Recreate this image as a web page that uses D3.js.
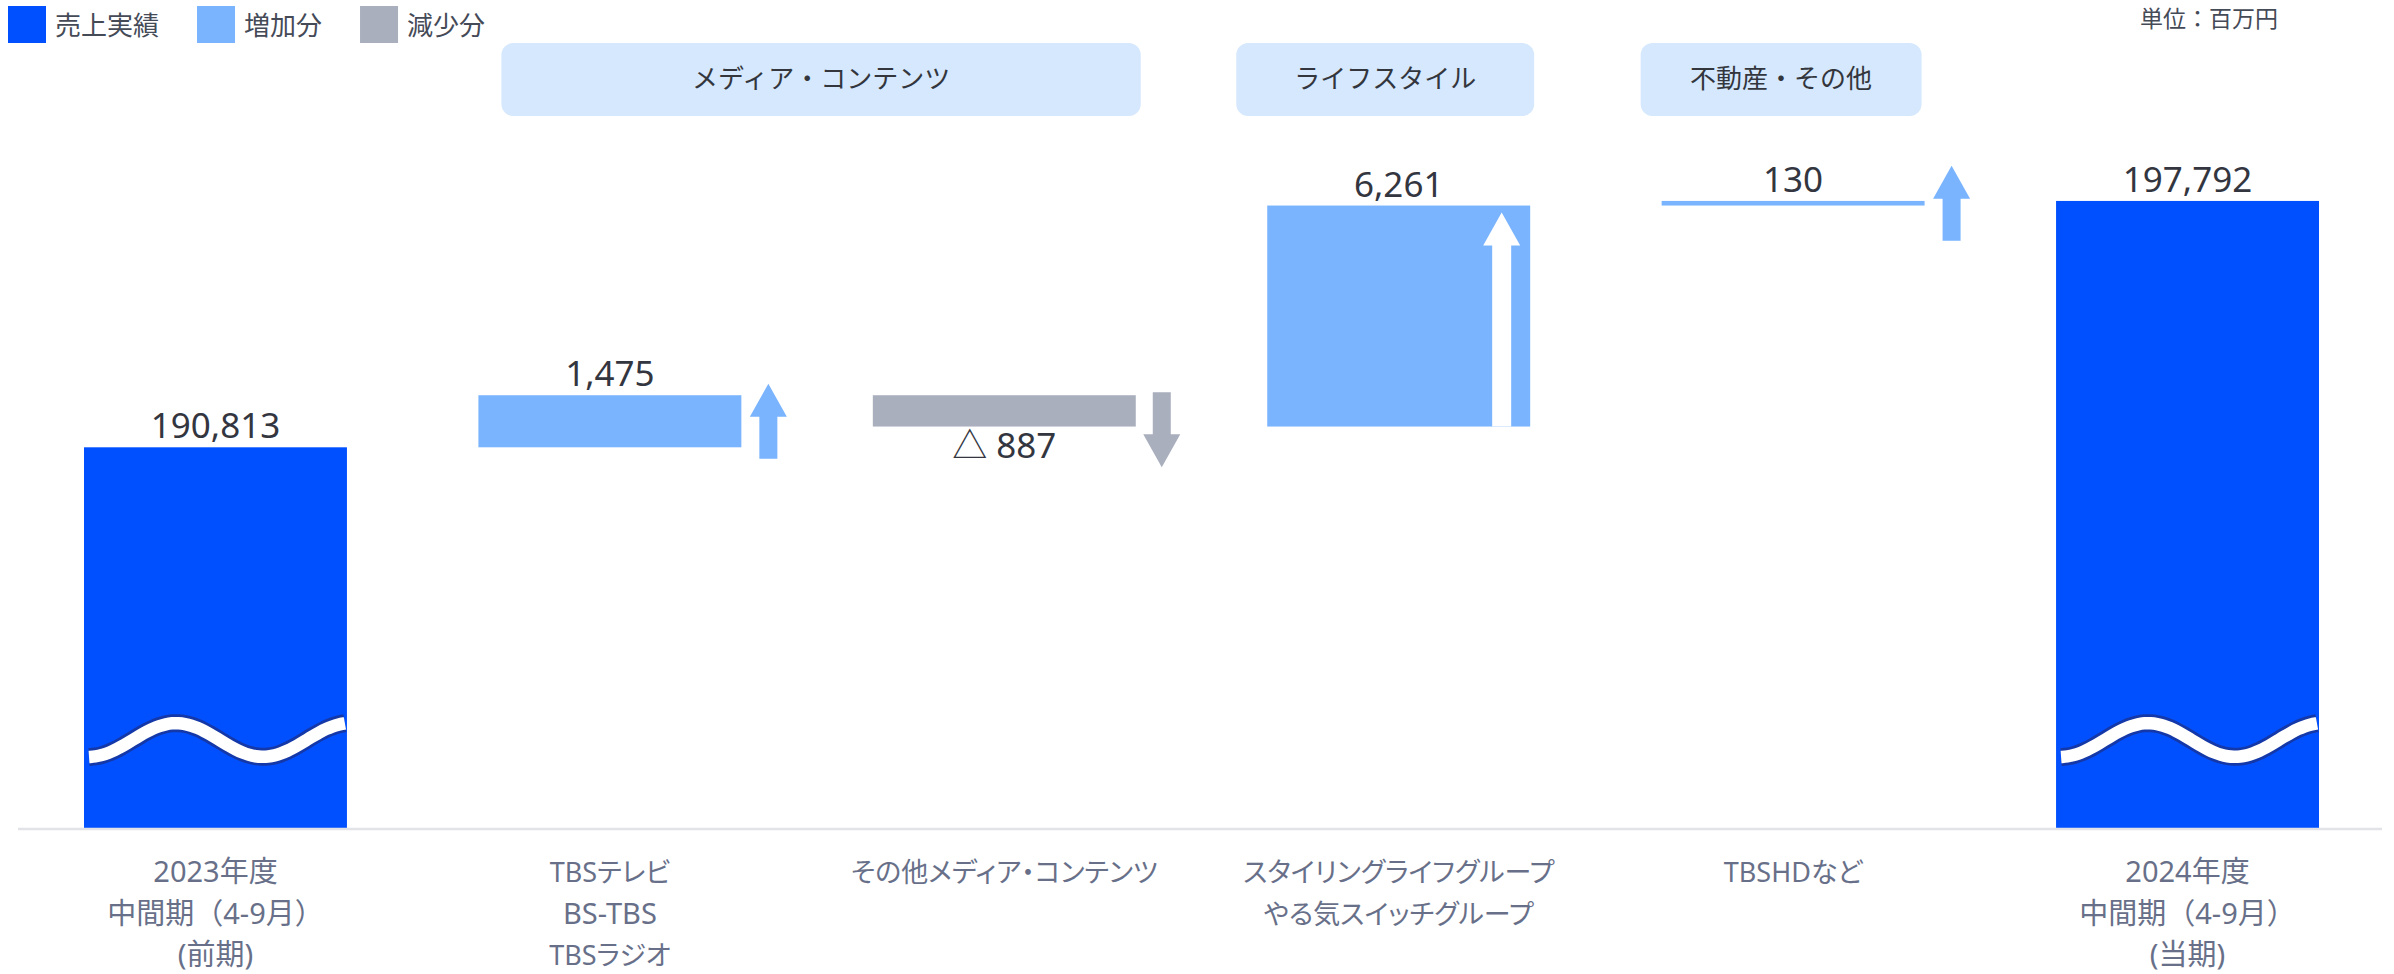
<!DOCTYPE html>
<html><head><meta charset="utf-8">
<script src="https://cdn.jsdelivr.net/npm/d3@7"></script>
<style>html,body{margin:0;padding:0;background:#fff;} svg{display:block;}</style>
</head><body>
<svg id="chart" width="2394" height="974"></svg>
<script>
// ---------------- data ----------------
const categories = ["2023H1", "TBS", "OtherMedia", "Lifestyle", "HD", "2024H1"];
const categoryLines = [
  ["2023年度", "中間期（4-9月）", "(前期)"],
  ["TBSテレビ", "BS-TBS", "TBSラジオ"],
  ["その他メディア・コンテンツ"],
  ["スタイリングライフグループ", "やる気スイッチグループ"],
  ["TBSHDなど"],
  ["2024年度", "中間期（4-9月）", "(当期)"]
];
const values = [190813, 1475, -887, 6261, 130, 197792];
const kinds = ["total", "increase", "decrease", "increase", "increase", "total"];
const valueLabels = ["190,813", "1,475", "△ 887", "6,261", "130", "197,792"];
const legendKinds = ["total", "increase", "decrease"];
const legendLabels = ["売上実績", "増加分", "減少分"];
const groupLabels = ["メディア・コンテンツ", "ライフスタイル", "不動産・その他"];
const groupFirst = ["TBS", "Lifestyle", "HD"];
const groupLast = ["OtherMedia", "Lifestyle", "HD"];
const unitLabel = "単位：百万円";
const yDomain = [180000, 200000];

// ---------------- style / layout ----------------
const colors = { total: "#0050ff", increase: "#7ab4ff", decrease: "#a9afbd" };
const jpFont = "'Noto Sans CJK JP','Noto Sans',sans-serif";
const numFont = "'Noto Sans','Noto Sans CJK JP',sans-serif";
const groupBoxInsets = [[23, 5], [-31, 4], [-21, -3]]; // [left shift, right shift]

const svg = d3.select("#chart");

const x = d3.scaleBand().domain(categories).range([84, 2319]).paddingInner(1 / 3).paddingOuter(0);
const y = d3.scaleLinear().domain(yDomain).range([829, 123]);
const bw = x.bandwidth();

// waterfall computation
let running = 0;
const bars = categories.map((c, i) => {
  let start, end;
  if (kinds[i] === "total") { start = yDomain[0]; end = values[i]; running = values[i]; }
  else { start = running; end = running + values[i]; running = end; }
  return { cat: c, kind: kinds[i], start, end, label: valueLabels[i], lines: categoryLines[i] };
});

// ---------------- legend ----------------
const legend = svg.append("g").attr("class", "legend");
let lx = 8;
legendKinds.forEach((k, i) => {
  const g = legend.append("g").attr("transform", `translate(${lx},6)`);
  g.append("rect").attr("width", 38).attr("height", 37).attr("fill", colors[k]);
  const t = g.append("text").attr("x", 47).attr("y", 29)
    .attr("font-family", jpFont).attr("font-size", 26).attr("fill", "#454a57").text(legendLabels[i]);
  lx += 47 + t.node().getComputedTextLength() + 38;
});

svg.append("text").attr("x", 2278).attr("y", 27).attr("text-anchor", "end")
  .attr("font-family", jpFont).attr("font-size", 23).attr("fill", "#454a57").text(unitLabel);

// ---------------- group boxes ----------------
groupLabels.forEach((lab, i) => {
  const x0 = x(groupFirst[i]) + groupBoxInsets[i][0];
  const x1 = x(groupLast[i]) + bw + groupBoxInsets[i][1];
  svg.append("rect").attr("x", x0).attr("y", 43).attr("width", x1 - x0).attr("height", 73)
    .attr("rx", 12).attr("fill", "#d5e8fd");
  svg.append("text").attr("x", (x0 + x1) / 2).attr("y", 88).attr("text-anchor", "middle")
    .attr("font-family", jpFont).attr("font-size", 26).attr("fill", "#33363d").text(lab);
});

// ---------------- bars ----------------
const barG = svg.append("g");
bars.forEach(b => {
  const top = y(Math.max(b.start, b.end));
  const bot = y(Math.min(b.start, b.end));
  b.top = top; b.bot = bot;
  barG.append("rect").attr("x", x(b.cat)).attr("y", top).attr("width", bw)
    .attr("height", Math.max(bot - top, 1)).attr("fill", colors[b.kind]);
});

// wave break marks on totals
const waveLine = d3.line().curve(d3.curveBasis);
bars.filter(b => b.kind === "total").forEach(b => {
  const x0 = x(b.cat) + 5, x1 = x(b.cat) + bw - 2;
  const cy = y.range()[0] - 89;
  const pts = d3.range(0, 41).map(k => {
    const px = x0 + (x1 - x0) * k / 40;
    return [px, cy + 17 * Math.cos(2 * Math.PI * (px - x0) / 174)];
  });
  barG.append("path").attr("d", waveLine(pts)).attr("fill", "none")
    .attr("stroke", "#1438a8").attr("stroke-width", 18).attr("stroke-linecap", "butt");
  barG.append("path").attr("d", waveLine(pts)).attr("fill", "none")
    .attr("stroke", "#ffffff").attr("stroke-width", 12.5).attr("stroke-linecap", "butt");
});

// arrows
function arrowPath(cx, t, b, dir, hw = 37, sw = 18, hh = 33) {
  if (dir === "up") {
    return `M${cx},${t}L${cx + hw / 2},${t + hh}L${cx + sw / 2},${t + hh}L${cx + sw / 2},${b}` +
      `L${cx - sw / 2},${b}L${cx - sw / 2},${t + hh}L${cx - hw / 2},${t + hh}Z`;
  }
  return `M${cx},${b}L${cx + hw / 2},${b - hh}L${cx + sw / 2},${b - hh}L${cx + sw / 2},${t}` +
    `L${cx - sw / 2},${t}L${cx - sw / 2},${b - hh}L${cx - hw / 2},${b - hh}Z`;
}
bars.filter(b => b.kind !== "total").forEach(b => {
  const h = b.bot - b.top;
  const right = x(b.cat) + bw;
  if (h > 90) {
    barG.append("path").attr("d", arrowPath(right - 28.5, b.top + 7, b.bot, "up", 37, 19, 33))
      .attr("fill", "#ffffff");
  } else if (b.kind === "increase") {
    const mid = (b.top + b.bot) / 2;
    barG.append("path").attr("d", arrowPath(right + 27, mid - 37.5, mid + 37.5, "up"))
      .attr("fill", colors.increase);
  } else {
    barG.append("path").attr("d", arrowPath(right + 26, b.top - 3, b.top + 72, "down"))
      .attr("fill", colors.decrease);
  }
});

// value labels
bars.forEach(b => {
  const below = b.kind === "decrease";
  svg.append("text").attr("x", x(b.cat) + bw / 2)
    .attr("y", below ? b.bot + 31 : b.top - 9)
    .attr("text-anchor", "middle").attr("font-family", numFont).attr("font-size", 35)
    .attr("fill", "#33363f").text(b.label);
});

// ---------------- x axis ----------------
svg.append("line").attr("x1", 18).attr("x2", 2382).attr("y1", 829).attr("y2", 829)
  .attr("stroke", "#e2e3e8").attr("stroke-width", 2.5);

const hasKana = s => /[\u3040-\u30ff]/.test(s);
const axisG = svg.append("g").attr("transform", `translate(0,${y.range()[0]})`)
  .call(d3.axisBottom(x).tickSize(0).tickFormat(() => ""));
axisG.select(".domain").remove();
axisG.selectAll(".tick text").each(function (d, i) {
  const t = d3.select(this).attr("y", 0).attr("dy", null)
    .attr("font-family", "'Noto Sans','Noto Sans CJK JP',sans-serif")
    .attr("font-size", 28).attr("fill", "#687089");
  categoryLines[i].forEach((ln, k) => {
    t.append("tspan").attr("x", 0).attr("y", 53 + k * 41.5)
      .attr("font-size", hasKana(ln) ? 27 : 29)
      .style("font-feature-settings", ln.includes("（") ? "normal" : "'palt'")
      .text(ln);
  });
});
</script>
</body></html>
